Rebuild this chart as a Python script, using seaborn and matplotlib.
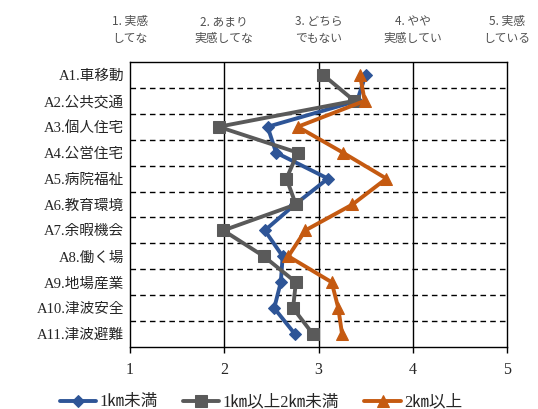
import numpy as np
import pandas as pd
import matplotlib
matplotlib.use("Agg")
import matplotlib.pyplot as plt
import seaborn as sns

categories = ["A1.車移動", "A2.公共交通", "A3.個人住宅", "A4.公営住宅", "A5.病院福祉",
              "A6.教育環境", "A7.余暇機会", "A8.働く場", "A9.地場産業", "A10.津波安全", "A11.津波避難"]
series_names = ["1㎞未満", "1㎞以上2㎞未満", "2㎞以上"]
under1 = [3.50, 3.41, 2.46, 2.55, 3.10, 2.75, 2.43, 2.62, 2.60, 2.53, 2.75]
from1to2 = [3.05, 3.38, 1.94, 2.78, 2.66, 2.76, 1.99, 2.42, 2.76, 2.73, 2.94]
over2 = [3.44, 3.49, 2.78, 3.26, 3.72, 3.36, 2.86, 2.68, 3.14, 3.21, 3.25]
x_ticks = [1, 2, 3, 4, 5]
top_labels = ["1. 実感\nしてな", "2. あまり\n実感してな", "3. どちら\nでもない", "4. やや\n実感してい", "5. 実感\nしている"]

colors = ["#2E5597", "#5A5A5A", "#C55A11"]
markers = ["D", "s", "^"]
msizes = [6, 8, 9]

sns.set_theme(style="white")
plt.rcParams["font.family"] = ["Liberation Serif", "Noto Sans CJK JP", "DejaVu Sans"]

rows = []
for name, vals in zip(series_names, [under1, from1to2, over2]):
    for i, v in enumerate(vals):
        rows.append({"series": name, "cat": i, "value": v})
df = pd.DataFrame(rows)

fig = plt.figure(figsize=(5.38, 4.09), dpi=100)
ax = fig.add_axes([130 / 538, 1 - 347 / 409, (507 - 130) / 538, (347 - 62) / 409])

for name, c, m, ms in zip(series_names, colors, markers, msizes):
    sub = df[df["series"] == name]
    sns.lineplot(data=sub, x="value", y="cat", orient="y", sort=False, ax=ax,
                 color=c, marker=m, markersize=ms, linewidth=2.8,
                 markeredgecolor=c, label=name, zorder=3)

n = len(categories)
ax.set_ylim(n - 0.5, -0.5)
ax.set_xlim(1, 5)
ax.set_yticks(np.arange(n))
ax.set_yticklabels(categories, fontsize=10.5,
                   fontfamily=["Liberation Serif", "Noto Sans CJK JP"])
ax.set_xticks(x_ticks)
ax.set_xticklabels([str(t) for t in x_ticks], fontsize=11.5, fontfamily="Liberation Serif")
ax.tick_params(axis="y", length=0, pad=4)
ax.tick_params(axis="x", length=4, width=1, direction="out", pad=7, color="black", bottom=True)
ax.set_xlabel("")
ax.set_ylabel("")

for b in np.arange(n - 1) + 0.5:
    ax.axhline(b, color="black", linestyle=(0, (4, 3)), linewidth=1, zorder=1)
for xv in x_ticks[1:-1]:
    ax.axvline(xv, color="black", linewidth=1, zorder=1)
for s in ax.spines.values():
    s.set_visible(True)
    s.set_color("black")
    s.set_linewidth(1)

sec = ax.secondary_xaxis("top")
sec.set_xticks(x_ticks)
sec.set_xticklabels(top_labels, fontsize=8.5, color="#505050",
                    fontfamily=["Noto Sans CJK JP"], linespacing=1.4)
sec.tick_params(axis="x", length=0, pad=12)
sec.spines["top"].set_visible(False)

ax.get_legend().remove()
handles, labels = ax.get_legend_handles_labels()
fig.legend(handles, labels, loc="lower center", bbox_to_anchor=(0.485, -0.04), ncol=3,
           frameon=False, handlelength=2.2, handletextpad=0.2, columnspacing=1.5,
           prop={"family": ["Liberation Serif", "Noto Sans CJK JP"], "size": 12})

fig.savefig("out.png", dpi=100)
